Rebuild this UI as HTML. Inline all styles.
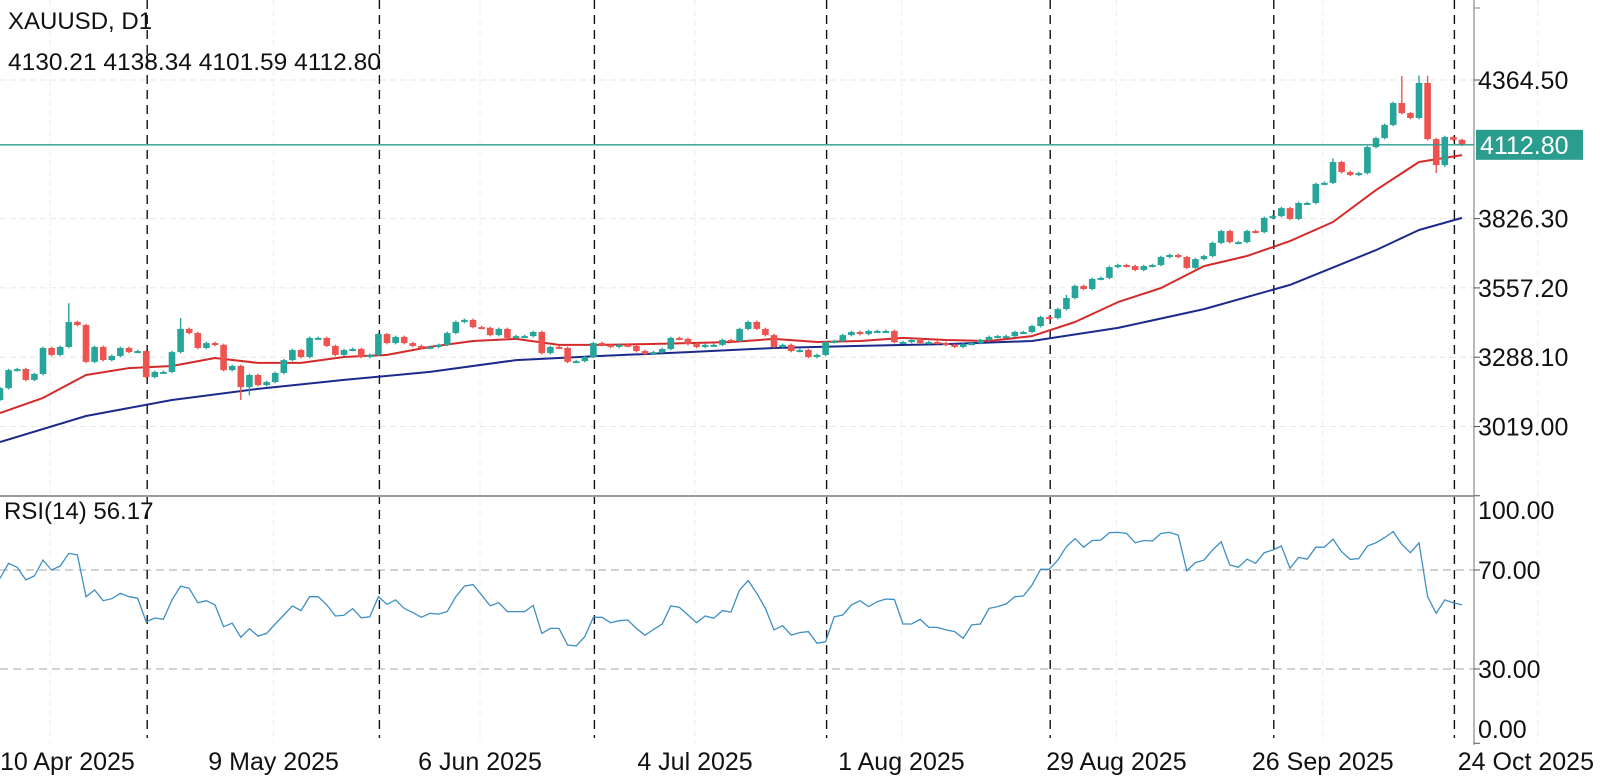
<!DOCTYPE html>
<html><head><meta charset="utf-8"><style>
html,body{margin:0;padding:0;background:#fff;}
svg{display:block;font-family:"Liberation Sans",sans-serif;}
</style></head><body>
<svg id="chart" width="1600" height="778" viewBox="0 0 1600 778" xmlns="http://www.w3.org/2000/svg">
<rect width="1600" height="778" fill="#fff"/>
<g id="grid"></g>
<g id="seps"></g>
<g id="ma"></g>
<g id="candles"></g>
<g id="rsi"></g>
<g id="axes"></g>
<text x="8" y="29" font-size="24" fill="#111">XAUUSD, D1</text>
<text x="8" y="70" font-size="24.5" fill="#111">4130.21 4138.34 4101.59 4112.80</text>
<text x="4" y="519" font-size="24" fill="#111">RSI(14) 56.17</text>
</svg>
<script>
const closes=[3168,3238,3242,3200,3223,3324,3297,3328,3425,3413,3270,3328,3277,3293,3324,3308,3312,3211,3231,3231,3308,3398,3382,3324,3343,3336,3238,3254,3172,3219,3180,3192,3227,3277,3316,3289,3363,3363,3332,3297,3316,3320,3289,3297,3378,3343,3367,3343,3332,3324,3328,3336,3382,3425,3433,3405,3402,3374,3398,3363,3370,3370,3386,3304,3328,3324,3270,3273,3289,3343,3336,3328,3336,3332,3312,3301,3308,3320,3363,3359,3339,3328,3336,3336,3355,3351,3398,3425,3398,3374,3328,3336,3312,3316,3289,3297,3347,3351,3374,3386,3378,3390,3390,3390,3347,3347,3355,3343,3347,3343,3336,3328,3339,3343,3355,3367,3370,3370,3386,3386,3409,3444,3440,3475,3518,3565,3553,3592,3596,3638,3646,3642,3627,3642,3646,3677,3685,3677,3635,3669,3681,3732,3778,3735,3735,3778,3774,3829,3836,3867,3825,3887,3887,3961,3965,4046,4007,3996,4003,4104,4139,4190,4275,4236,4217,4353,4135,4034,4143,4132,4112.8];
const firstOpen=3122;
const longWicksHigh={8:3498,21:3440,124:3530,155:4060,163:4380,165:4382,166:4381};
const longWicksLow={28:3122,29:3140,167:4003,168:4027};
const maIdx=[0,5,10,15,20,25,30,35,40,45,50,55,60,65,70,75,80,85,90,95,100,105,110,115,120,125,130,135,140,145,150,155,160,165,170];
const maFast=[3071,3130,3219,3246,3254,3285,3266,3266,3289,3297,3328,3351,3359,3336,3336,3339,3343,3347,3359,3347,3351,3363,3355,3351,3370,3425,3502,3557,3642,3681,3739,3813,3937,4046,4073];
const maSlowIdx=[0,10,20,30,40,50,60,70,80,90,100,110,120,130,140,150,160,165,170];
const maSlow=[2959,3060,3122,3165,3200,3231,3277,3293,3308,3324,3332,3339,3351,3402,3475,3569,3704,3782,3829];
const rsiVals=[66.6,72.7,71.1,66.0,67.6,74.0,70.0,71.6,76.7,76.1,59.2,61.9,57.6,58.4,60.6,59.2,58.6,49.1,50.6,50.1,57.9,63.5,62.6,56.8,57.6,55.9,47.1,48.5,42.8,46.3,43.3,44.4,48.2,51.8,55.5,53.6,59.2,59.2,55.9,51.4,51.7,54.4,50.7,51.1,59.2,56.1,57.9,54.5,52.8,50.9,52.5,52.2,53.2,59.2,63.5,64.1,59.9,55.5,56.8,53.2,53.2,53.2,55.7,44.4,46.4,46.4,39.7,39.3,43.1,50.9,50.9,48.7,49.5,49.8,46.4,43.6,46.0,48.2,55.5,54.9,51.8,48.7,51.4,50.5,53.6,53.0,61.9,65.7,60.6,54.5,45.8,47.5,43.7,44.7,45.1,40.4,41.0,51.1,51.8,55.9,57.6,55.2,57.2,58.3,58.1,48.2,48.2,50.1,46.8,46.8,45.8,45.1,42.4,47.8,48.2,54.5,55.2,56.3,59.2,59.5,63.9,70.3,70.3,74.0,79.4,82.7,79.2,81.9,82.1,85.1,85.2,84.8,81.0,81.9,81.7,84.8,85.2,84.1,69.7,73.0,74.0,78.1,81.4,72.0,71.1,74.4,72.7,77.0,78.1,79.7,70.7,75.1,74.4,79.2,79.2,82.5,77.4,74.3,74.6,79.7,81.0,83.1,85.5,80.4,77.0,81.0,59.2,52.5,57.9,56.8,55.9];
const priceTicks=[4364.50,3826.30,3557.20,3288.10,3019.00];
const rsiTicks=[100,70,30,0];
const rsiTickLabels=["100.00","70.00","30.00","0.00"];
const dateLabels=["10 Apr 2025","9 May 2025","6 Jun 2025","4 Jul 2025","1 Aug 2025","29 Aug 2025","26 Sep 2025","24 Oct 2025"];
const dateIdx=[0,26,50,75,99,124,148,173];
const sepIdx=[17,44,69,96,122,148,169];
const lastPrice=4112.80;

const NS="http://www.w3.org/2000/svg";
const AXIS_X=1474, STEP=8.6;
const xS=i=>i*STEP;
const yP=p=>80+(4364.5-p)/3.883;
const yR=v=>570+(70-v)*2.475;
function mk(tag,attrs,parent){const e=document.createElementNS(NS,tag);for(const k in attrs)e.setAttribute(k,attrs[k]);parent.appendChild(e);return e;}
const grid=document.getElementById('grid'),seps=document.getElementById('seps'),maG=document.getElementById('ma'),cg=document.getElementById('candles'),rg=document.getElementById('rsi'),ax=document.getElementById('axes');

priceTicks.forEach(p=>{const l=mk('line',{x1:0,x2:AXIS_X,y1:yP(p),y2:yP(p),stroke:'#e6e6e6','stroke-dasharray':'6,4'},grid);

});
dateIdx.forEach(i=>{const l=mk('line',{x1:xS(i)+50,x2:xS(i)+50,y1:0,y2:743,stroke:'#eeeeee','stroke-dasharray':'6,4'},grid);

});
[70,30].forEach(v=>{const l=mk('line',{x1:0,x2:AXIS_X,y1:yR(v),y2:yR(v),stroke:'#b8b8b8','stroke-dasharray':'8,5','stroke-width':1.2},grid);

});
sepIdx.forEach(i=>{const x=xS(i)+1;const l=mk('line',{x1:x,x2:x,y1:0,y2:738,stroke:'#111','stroke-dasharray':'9,6','stroke-width':1.4},seps);

});

function poly(idx,vals,color,name){const pts=idx.map((i,k)=>xS(i).toFixed(1)+','+yP(vals[k]).toFixed(1)).join(' ');
const e=mk('polyline',{points:pts,fill:'none',stroke:color,'stroke-width':2,'stroke-linejoin':'round'},maG);

}
poly(maSlowIdx,maSlow,'#1c2a8c','ma-slow-line');
poly(maIdx,maFast,'#d42a2a','ma-fast-line');

const ll=mk('line',{x1:0,x2:AXIS_X,y1:yP(lastPrice),y2:yP(lastPrice),stroke:'#2a9d8f','stroke-width':1.3},ax);



closes.forEach((c,i)=>{const o=i===0?firstOpen:closes[i-1];const up=c>=o;const col=up?'#26a69a':'#ef5350';
const top=Math.max(o,c),bot=Math.min(o,c);
const hi=longWicksHigh[i]!==undefined?longWicksHigh[i]:top+5;
const lo=longWicksLow[i]!==undefined?longWicksLow[i]:bot-5;
const x=xS(i);const g=mk('g',{},cg);


mk('line',{x1:x,x2:x,y1:yP(hi),y2:yP(lo),stroke:col,'stroke-width':1.4},g);
const h=Math.max(2,yP(bot)-yP(top));
mk('rect',{x:x-3.3,y:yP(top),width:6.6,height:h,fill:col},g);});

const rp=mk('polyline',{points:rsiVals.map((v,i)=>xS(i).toFixed(1)+','+yR(v).toFixed(1)).join(' '),fill:'none',stroke:'#3d8fc4','stroke-width':1.3},rg);



const sep=mk('line',{x1:0,x2:AXIS_X,y1:496,y2:496,stroke:'#9a9a9a','stroke-width':2},ax);


const va=mk('line',{x1:AXIS_X,x2:AXIS_X,y1:0,y2:745,stroke:'#888','stroke-width':1.2},ax);


mk('line',{x1:AXIS_X,x2:AXIS_X+6,y1:8,y2:8,stroke:'#888'},ax);
priceTicks.forEach(p=>{const y=yP(p);mk('line',{x1:AXIS_X,x2:AXIS_X+6,y1:y,y2:y,stroke:'#555'},ax);
const t=mk('text',{x:AXIS_X+4,y:y+9,'font-size':25,fill:'#111'},ax);t.textContent=p.toFixed(2);

});
rsiTicks.forEach((v,k)=>{let y=yR(v);if(v===100)y=510;if(v===0)y=729;mk('line',{x1:AXIS_X,x2:AXIS_X+6,y1:yR(v),y2:yR(v),stroke:'#555'},ax);
const t=mk('text',{x:AXIS_X+4,y:y+9,'font-size':25,fill:'#111'},ax);t.textContent=rsiTickLabels[k];

});
const box=mk('rect',{x:AXIS_X+2,y:yP(lastPrice)-15,width:107,height:30,fill:'#2a9d8f'},ax);


const bt=mk('text',{x:AXIS_X+6,y:yP(lastPrice)+9,'font-size':25,fill:'#fff'},ax);bt.textContent=lastPrice.toFixed(2);


dateLabels.forEach((d,k)=>{let x=xS(dateIdx[k])+50;let anchor='middle';if(k===0){x=0;anchor='start';}if(k===dateLabels.length-1){x=1594;anchor='end';}
const t=mk('text',{x:x,y:770,'font-size':25,fill:'#111','text-anchor':anchor},ax);t.textContent=d;

});
</script>
</body></html>
